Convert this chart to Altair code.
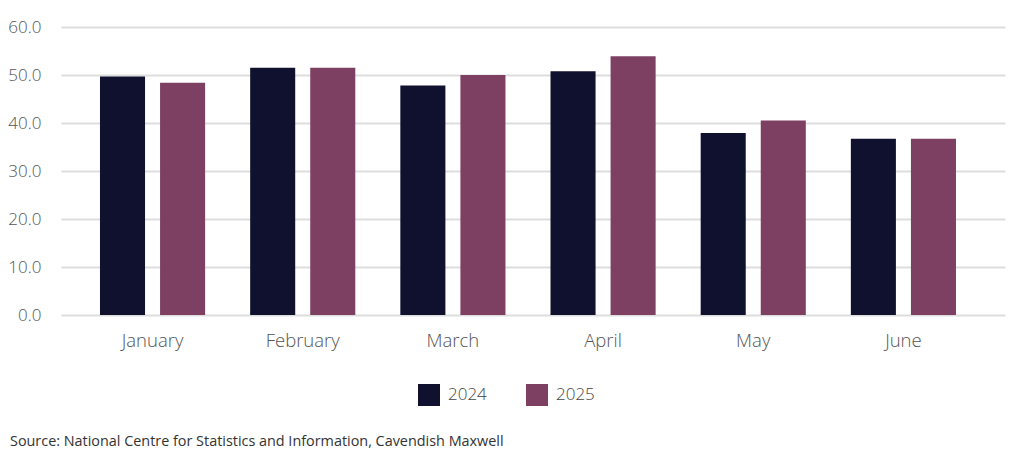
import altair as alt
import pandas as pd

months = ["January", "February", "March", "April", "May", "June"]
years = ["2024", "2025"]
values_2024 = [49.7, 51.5, 47.8, 50.8, 37.9, 36.7]
values_2025 = [48.4, 51.5, 50.0, 53.9, 40.5, 36.7]
colors = ["#10112e", "#7e4062"]
source_text = "Source: National Centre for Statistics and Information, Cavendish Maxwell"

rows = []
for m, a, b in zip(months, values_2024, values_2025):
    rows.append({"month": m, "year": "2024", "value": a})
    rows.append({"month": m, "year": "2025", "value": b})
df = pd.DataFrame(rows)

FONT = "Open Sans"

bars = alt.Chart(df).mark_bar().encode(
    x=alt.X("month:N", sort=months, title=None,
            scale=alt.Scale(paddingInner=0.3, paddingOuter=0.293, align=0.443),
            axis=alt.Axis(labelAngle=0, labelFontSize=18.5, labelColor="#555555",
                          labelFont=FONT, labelFontWeight=300, labelPadding=16,
                          domain=False, ticks=False, grid=False)),
    xOffset=alt.XOffset("year:N", sort=years,
                        scale=alt.Scale(paddingInner=0.25, paddingOuter=0)),
    y=alt.Y("value:Q", title=None,
            scale=alt.Scale(domain=[0, 60], nice=False),
            axis=alt.Axis(values=[0, 10, 20, 30, 40, 50, 60], format=".1f",
                          labelFontSize=17, labelColor="#555555", labelFont=FONT,
                          labelFontWeight=300, labelPadding=20, domain=False, ticks=False,
                          grid=True, gridColor="#dddddd", gridWidth=2)),
    color=alt.Color("year:N", sort=years,
                    scale=alt.Scale(domain=years, range=colors),
                    legend=alt.Legend(title=None, orient="none", legendX=357, legendY=357,
                                      direction="horizontal", symbolType="square",
                                      symbolSize=484, symbolStrokeWidth=0,
                                      labelFontSize=17, labelColor="#444444",
                                      labelFont=FONT, labelFontWeight=300,
                                      labelOffset=8, columnPadding=39)),
)

src = alt.Chart(pd.DataFrame({"t": [source_text]})).mark_text(
    align="left", baseline="middle", fontSize=14.4, font=FONT, color="#333333",
    fontWeight=500
).encode(text="t:N", x=alt.value(-51), y=alt.value(415))

chart = alt.layer(bars, src).properties(
    width=944, height=288,
    autosize=alt.AutoSizeParams(type="none"),
    padding={"left": 53, "top": 19, "right": 11, "bottom": 134},
).configure(background="white").configure_view(stroke=None)

chart.save("out.html", embed_options={"renderer": "svg", "actions": False})
